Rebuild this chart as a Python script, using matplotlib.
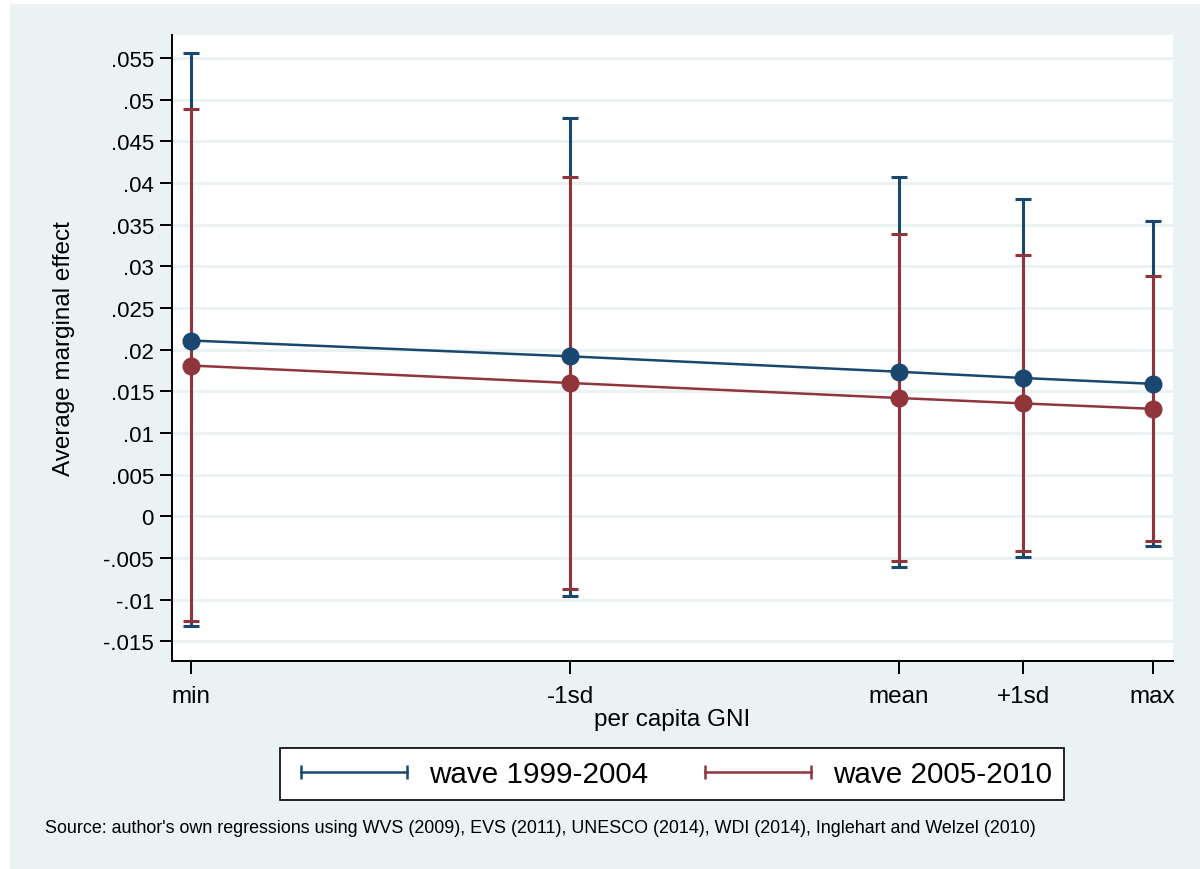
import numpy as np
import matplotlib
matplotlib.use("Agg")
import matplotlib.pyplot as plt
from matplotlib.lines import Line2D
from matplotlib.patches import Rectangle

plt.rcParams['font.family'] = ['Liberation Sans', 'DejaVu Sans']

# evaluation points of per capita GNI (relative units)
gni_labels = ["min", "-1sd", "mean", "+1sd", "max"]
gni_at = [0.0, 5.92, 11.04, 12.98, 15.0]

# wave 1999-2004
ame_w1 = [0.0211, 0.0192, 0.01735, 0.0166, 0.0159]
lo_w1 = [-0.0132, -0.0095, -0.0061, -0.0049, -0.0036]
hi_w1 = [0.0556, 0.0478, 0.0407, 0.0381, 0.0354]

# wave 2005-2010
ame_w2 = [0.0181, 0.0160, 0.0142, 0.01355, 0.0129]
lo_w2 = [-0.0125, -0.0087, -0.0054, -0.0042, -0.0030]
hi_w2 = [0.0489, 0.0407, 0.0339, 0.0314, 0.0289]

y_ticks = [-0.015, -0.01, -0.005, 0, 0.005, 0.01, 0.015, 0.02, 0.025,
           0.03, 0.035, 0.04, 0.045, 0.05, 0.055]
y_ticklabels = ["-.015", "-.01", "-.005", "0", ".005", ".01", ".015", ".02",
                ".025", ".03", ".035", ".04", ".045", ".05", ".055"]

blue = "#1a476f"
red = "#90353b"
bg = "#eaf2f3"

fig = plt.figure(figsize=(12, 8.7), dpi=100, facecolor="white")
# stata-like outer region
fig.patches.append(Rectangle((10 / 1200, 0), 1 - 10 / 1200, 1 - 5 / 870,
                             transform=fig.transFigure, facecolor=bg,
                             edgecolor="none", zorder=-10))

ax = fig.add_axes([172 / 1200, 1 - 662 / 870, 1001 / 1200, 626 / 870])
ax.set_facecolor("white")

for sp in ["top", "right"]:
    ax.spines[sp].set_visible(False)
for sp in ["left", "bottom"]:
    ax.spines[sp].set_linewidth(1.4)
    ax.spines[sp].set_color("black")

ax.set_yticks(y_ticks)
ax.set_yticklabels(y_ticklabels, fontsize=16)
ax.set_xticks(gni_at)
ax.set_xticklabels(gni_labels, fontsize=17.5)
ax.tick_params(axis="both", length=9, width=1.4, color="black")
ax.tick_params(axis="x", pad=8)
ax.tick_params(axis="y", pad=4)
ax.yaxis.grid(True, color=bg, linewidth=2.2)
ax.set_axisbelow(True)

ax.set_xlim(-0.292, 15.317)
ax.set_ylim(-0.01736, 0.05776)

# confidence intervals
ax.errorbar(gni_at, ame_w1,
            yerr=[np.array(ame_w1) - np.array(lo_w1), np.array(hi_w1) - np.array(ame_w1)],
            fmt="none", ecolor=blue, elinewidth=2.2, capsize=5.5, capthick=2.2, zorder=3)
ax.errorbar(gni_at, ame_w2,
            yerr=[np.array(ame_w2) - np.array(lo_w2), np.array(hi_w2) - np.array(ame_w2)],
            fmt="none", ecolor=red, elinewidth=2.2, capsize=5.5, capthick=2.2, zorder=4)

# point estimates
ax.plot(gni_at, ame_w1, color=blue, linewidth=1.8, marker="o", markersize=12, zorder=5)
ax.plot(gni_at, ame_w2, color=red, linewidth=1.8, marker="o", markersize=12, zorder=6)

ax.set_ylabel("Average marginal effect", fontsize=17.5, labelpad=20)
ax.set_xlabel("per capita GNI", fontsize=17.5, labelpad=1)

handles = [Line2D([], [], color=blue, linewidth=1.8, marker="|", markersize=10, markeredgewidth=1.8),
           Line2D([], [], color=red, linewidth=1.8, marker="|", markersize=10, markeredgewidth=1.8)]
leg = fig.legend(handles, ["wave 1999-2004", "wave 2005-2010"], loc="center",
                 bbox_to_anchor=(672 / 1200, 1 - 775 / 870), ncol=2, numpoints=2,
                 fontsize=21.3, frameon=True, fancybox=False, handlelength=4.2,
                 handletextpad=0.45, columnspacing=1.6, borderpad=0.4,
                 edgecolor="black", framealpha=1)
leg.get_frame().set_linewidth(1.2)

fig.text(45 / 1200, 1 - 829 / 870,
         "Source: author's own regressions using WVS (2009), EVS (2011), UNESCO (2014), "
         "WDI (2014), Inglehart and Welzel (2010)",
         fontsize=12.9, ha="left", va="center")

fig.savefig("out.png", dpi=100, facecolor=fig.get_facecolor())
